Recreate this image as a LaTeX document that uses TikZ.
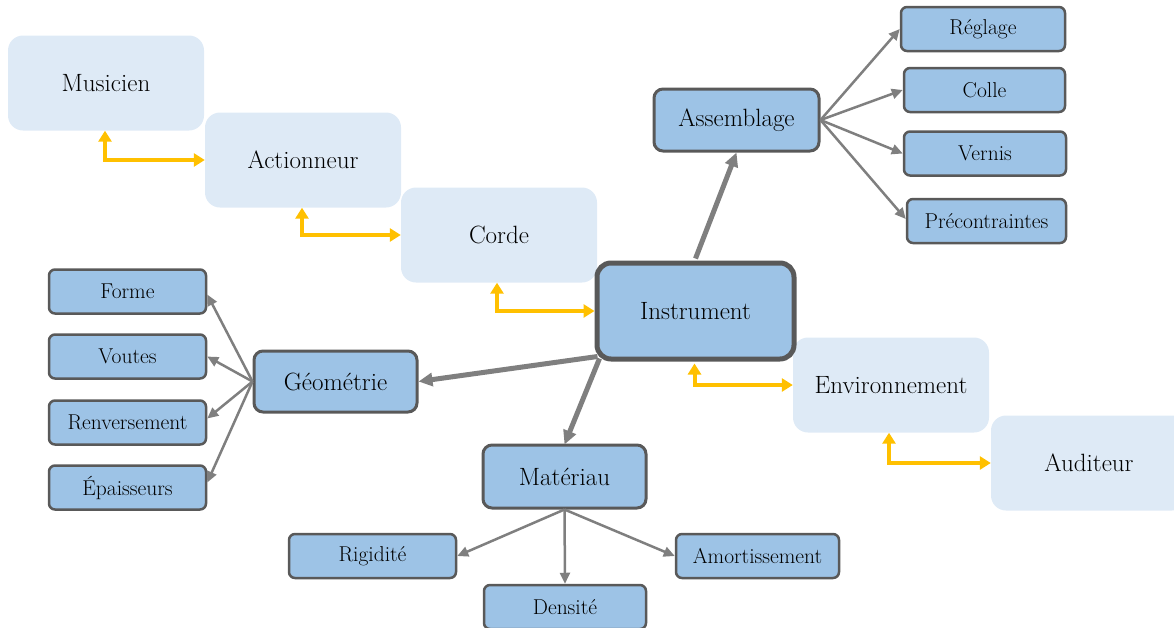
\documentclass[tikz,border=0pt]{standalone}
\usepackage{fontspec}
\usetikzlibrary{arrows.meta}
\definecolor{lightbox}{HTML}{DEEAF6}
\definecolor{bluebox}{HTML}{9DC3E6}
\definecolor{boxline}{HTML}{595959}
\definecolor{conn}{HTML}{7F7F7F}
\definecolor{orangec}{HTML}{FFC000}
\tikzset{
  lbox/.style={rectangle, rounded corners=15pt, fill=lightbox, minimum width=196pt, minimum height=95pt, inner sep=0pt, font=\fontsize{25}{29}\selectfont},
  mainbox/.style={rectangle, rounded corners=14pt, fill=bluebox, draw=boxline, line width=5pt, minimum width=197pt, minimum height=96pt, inner sep=0pt, font=\fontsize{25}{29}\selectfont},
  midbox/.style={rectangle, rounded corners=9pt, fill=bluebox, draw=boxline, line width=3pt, minimum width=163pt, minimum height=62pt, inner sep=0pt, font=\fontsize{25}{29}\selectfont},
  smallbox/.style={rectangle, rounded corners=6pt, fill=bluebox, draw=boxline, line width=2.5pt, minimum width=160pt, minimum height=44pt, inner sep=0pt, font=\fontsize{21.5}{25}\selectfont},
  thickarr/.style={draw=conn, line width=5pt, -{Triangle[length=14pt,width=13pt]}},
  thinarr/.style={draw=conn, line width=2.5pt, -{Triangle[length=11pt,width=10pt]}},
  orarr/.style={draw=orangec, line width=4pt, {Triangle[length=11pt,width=13pt]}-{Triangle[length=11pt,width=13pt]}},
}
\begin{document}
\begin{tikzpicture}[x=1pt,y=-1pt]
\useasboundingbox (0,0) rectangle (1174,627);
% light boxes
\node[lbox] (mus) at (106,83) {Musicien};
\node[lbox] (act) at (303,160) {Actionneur};
\node[lbox] (cor) at (499,235) {Corde};
\node[lbox] (env) at (891,385) {Environnement};
\node[lbox] (aud) at (1089,463) {Auditeur};
% main
\node[mainbox] (ins) at (695.5,311) {Instrument};
\node[midbox, minimum width=165pt] (ass) at (736.5,120) {Assemblage};
\node[midbox, minimum height=61pt] (geo) at (335.5,381.5) {Géométrie};
\node[midbox, minimum height=63pt] (mat) at (564.5,476.5) {Matériau};
% small
\node[smallbox, minimum width=164pt] (reg) at (983,29) {Réglage};
\node[smallbox, minimum width=161pt] (col) at (984.5,90) {Colle};
\node[smallbox, minimum width=162pt] (ver) at (985,153.5) {Vernis};
\node[smallbox, minimum width=159pt] (pre) at (986.5,221) {Précontraintes};
\node[smallbox, minimum width=157pt] (for) at (127.5,291.5) {Forme};
\node[smallbox, minimum width=157pt] (vou) at (127.5,356.5) {Voutes};
\node[smallbox, minimum width=157pt] (ren) at (127.5,422.5) {Renversement};
\node[smallbox, minimum width=157pt] (epa) at (127.5,487.5) {Épaisseurs};
\node[smallbox, minimum width=167pt] (rig) at (372.5,556) {Rigidité};
\node[smallbox, minimum width=162pt] (den) at (565,607) {Densité};
\node[smallbox, minimum width=163pt] (amo) at (757.5,556) {Amortissement};
% orange connectors
\draw[orarr] ([xshift=-1pt]mus.south) |- (act.west);
\draw[orarr] ([xshift=-1pt]act.south) |- (cor.west);
\draw[orarr] ([xshift=-2pt]cor.south) |- (ins.west);
\draw[orarr] ([xshift=-1pt,yshift=-2pt]ins.south) |- (env.west);
\draw[orarr] ([xshift=-2pt]env.south) |- (aud.west);
% main connectors
\draw[thickarr] ([yshift=2pt]ins.north) -- (ass.south);
\draw[thickarr] ([xshift=3pt,yshift=5pt]ins.south west) -- (geo.east);
\draw[thickarr] ([xshift=5pt,yshift=3pt]ins.south west) -- ([yshift=-1pt]mat.north);
% fans
\draw[thinarr] (ass.east) -- (reg.west);
\draw[thinarr] (ass.east) -- (col.west);
\draw[thinarr] (ass.east) -- (ver.west);
\draw[thinarr] (ass.east) -- ([yshift=2pt]pre.west);
\draw[thinarr] (geo.west) -- ([yshift=-3pt]for.east);
\draw[thinarr] (geo.west) -- (vou.east);
\draw[thinarr] (geo.west) -- ([yshift=4pt]ren.east);
\draw[thinarr] (geo.west) -- ([yshift=5pt]epa.east);
\draw[thinarr] (mat.south) -- (rig.east);
\draw[thinarr] (mat.south) -- (den.north);
\draw[thinarr] (mat.south) -- (amo.west);
\end{tikzpicture}
\end{document}
